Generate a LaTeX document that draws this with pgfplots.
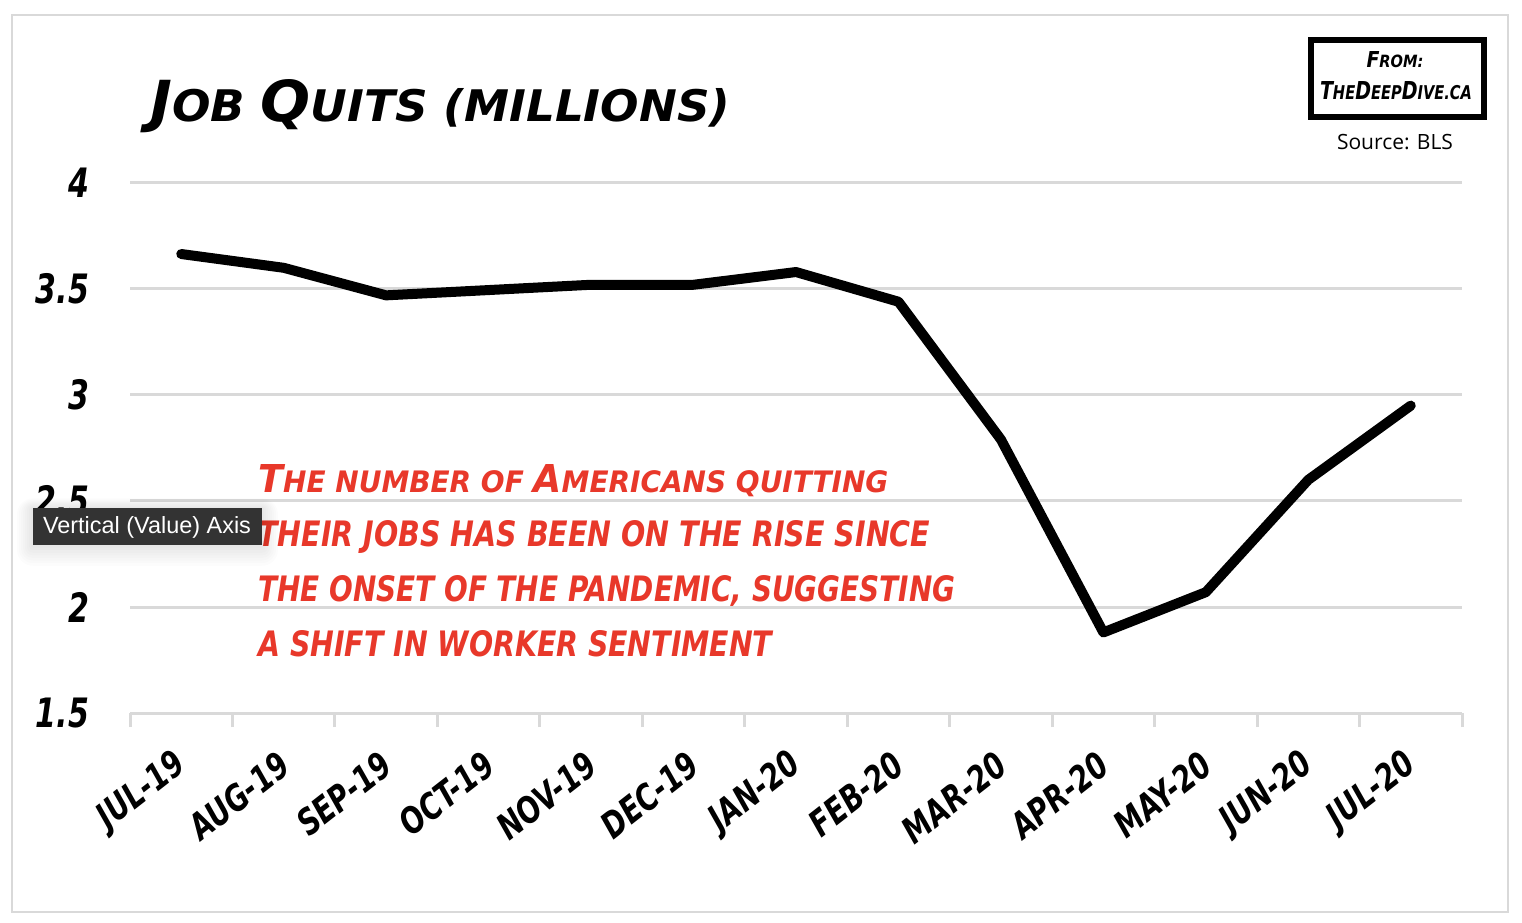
\documentclass[border=0pt]{standalone}
\usepackage{fontspec}
\usepackage{graphicx}
\usepackage{pgfplots}
\pgfplotsset{compat=1.18}
\setmainfont{DejaVu Sans}
\newfontfamily\hand{DejaVu Sans}
\newfontfamily\opensans{Open Sans}
\newfontfamily\libsans{Liberation Sans}
\definecolor{gridgray}{HTML}{D9D9D9}
\definecolor{annred}{HTML}{E8382A}
\definecolor{tipgray}{HTML}{333333}
\newcommand\CC[1]{\scalebox{1.3}{#1}}
\newcommand\hnd{\hand\bfseries\itshape}
\newcommand\xl[1]{\scalebox{0.92}[1.2]{#1}}
\begin{document}
\begin{tikzpicture}[x=1pt,y=1pt]
\fill[white] (0,0) rectangle (761,461);
\draw[gridgray, line width=0.8pt] (6,5) rectangle (754,453.5);
\begin{axis}[
  at={(65pt,104.5pt)}, anchor=south west,
  scale only axis, width=666pt, height=265pt,
  xmin=-0.5, xmax=12.5, ymin=1.5, ymax=4,
  axis x line*=bottom, axis y line*=left,
  y axis line style={draw=none},
  x axis line style={gridgray, line width=1.5pt},
  ytick={1.5,2,2.5,3,3.5,4},
  ymajorgrids, major grid style={gridgray, line width=1.5pt},
  xtick={0,...,12},
  xticklabels={\xl{JUL-19},\xl{AUG-19},\xl{SEP-19},\xl{OCT-19},\xl{NOV-19},\xl{DEC-19},\xl{JAN-20},\xl{FEB-20},\xl{MAR-20},\xl{APR-20},\xl{MAY-20},\xl{JUN-20},\xl{JUL-20}},
  major tick length=0pt,
  minor xtick={-0.5,0.5,...,12.5},
  minor tick length=7pt, tick align=outside,
  minor x tick style={gridgray, line width=1.5pt},
  /pgf/number format/assume math mode=true,
  yticklabel style={font=\hnd\fontsize{15}{15}\selectfont, anchor=east, xshift=-17pt},
  yticklabel={\scalebox{1}[1.35]{\pgfmathprintnumber{\tick}}},
  xticklabel style={font=\hnd\fontsize{15}{15}\selectfont, rotate=38, anchor=east, yshift=-19pt, xshift=-11pt},
  clip=false,
]
\addplot[black, line width=5pt, line join=round, line cap=round] coordinates {
 (0,3.665) (1,3.60) (2,3.47) (3,3.495) (4,3.52) (5,3.52) (6,3.58)
 (7,3.44) (8,2.79) (9,1.88) (10,2.07) (11,2.60) (12,2.95)
};
\end{axis}
% title
\node[anchor=base west, inner sep=0] at (75,400) {\resizebox{290pt}{21pt}{\hnd \CC{J}OB \CC{Q}UITS (MILLIONS)}};
% annotation
\node[anchor=base west, inner sep=0, text=annred] at (129,214.5) {\resizebox{315pt}{14pt}{\hnd \CC{T}HE NUMBER OF \CC{A}MERICANS QUITTING}};
\node[anchor=base west, inner sep=0, text=annred] at (129,187.5) {\resizebox{336pt}{13pt}{\hnd THEIR JOBS HAS BEEN ON THE RISE SINCE}};
\node[anchor=base west, inner sep=0, text=annred] at (129,160) {\resizebox{348.5pt}{13pt}{\hnd THE ONSET OF THE PANDEMIC, SUGGESTING}};
\node[anchor=base west, inner sep=0, text=annred] at (129,132.5) {\resizebox{257pt}{13pt}{\hnd A SHIFT IN WORKER SENTIMENT}};
% from box
\draw[black, line width=3pt] (655.5,402.5) rectangle (742,441);
\node[inner sep=0] at (697.5,431) {\resizebox{28.5pt}{8pt}{\hnd \CC{F}ROM:}};
\node[inner sep=0] at (698,415.5) {\resizebox{76pt}{9pt}{\hnd \CC{T}HE\CC{D}EEP\CC{D}IVE.CA}};
\node[inner sep=0] at (697.5,390) {\resizebox{58pt}{!}{\opensans Source: BLS}};
% tooltip
\foreach \d in {1,2,...,8}{
  \fill[black, opacity=0.012, rounded corners=\d pt] (16.5-\d,188.5-\d*1.3) rectangle (131+\d,207+\d*0.6);
}
\fill[tipgray] (16.5,188.5) rectangle (131,207);
\node[inner sep=0, text=white] at (73.5,197.5) {\resizebox{104pt}{!}{\libsans Vertical (Value) Axis}};
\pgfresetboundingbox
\useasboundingbox (0,0) rectangle (761,461);
\end{tikzpicture}
\end{document}
